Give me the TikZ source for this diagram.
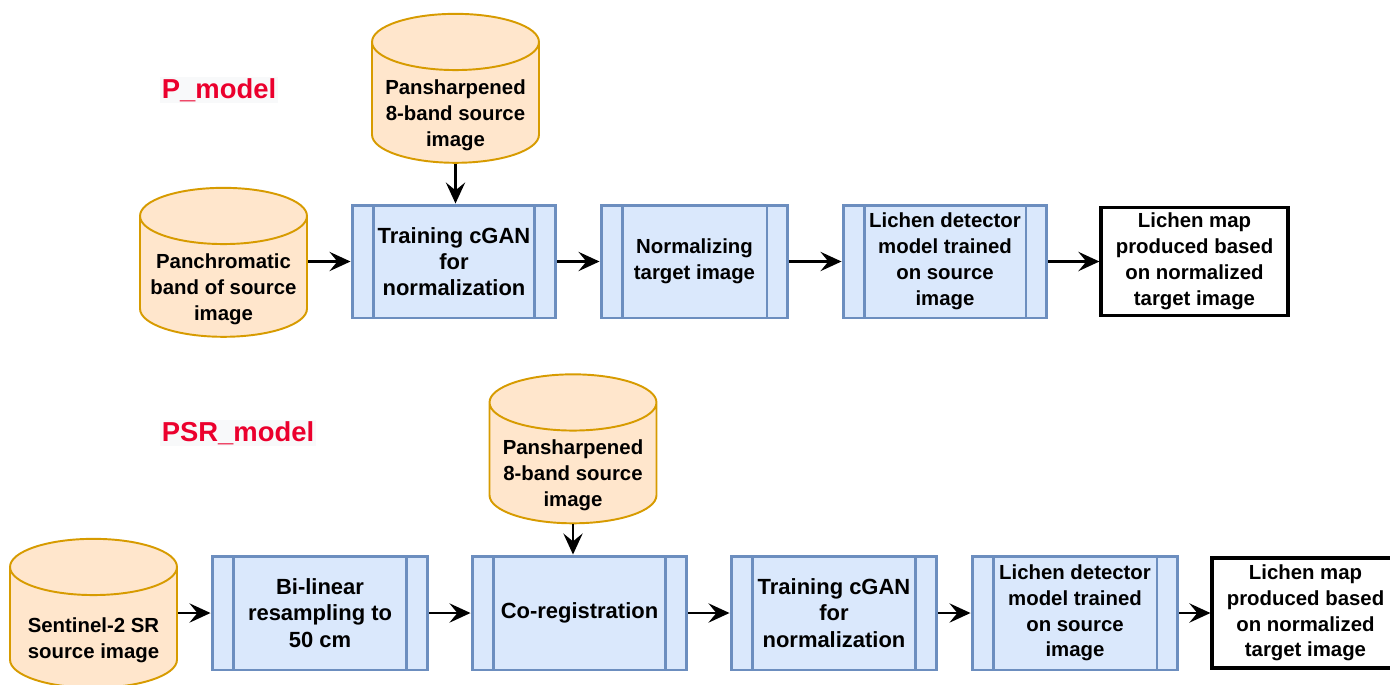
\documentclass[tikz,border=0pt]{standalone}
\usepackage{fontspec}
\setmainfont{Liberation Sans}
\usetikzlibrary{shapes.geometric,arrows.meta}
\definecolor{storefill}{HTML}{FFE6CC}
\definecolor{storeline}{HTML}{D79B00}
\definecolor{procfill}{HTML}{DAE8FC}
\definecolor{procline}{HTML}{6C8EBF}
\definecolor{titlered}{RGB}{235,0,45}
\definecolor{titlebg}{HTML}{F8F9FA}

\begin{document}
\begin{tikzpicture}[x=0.02cm, y=-0.02cm,
    every node/.style={font=\fontsize{11.6}{14.7}\selectfont\bfseries, align=center},
    bigtext/.style={font=\fontsize{12.5}{14.9}\selectfont\bfseries},
    title/.style={text=titlered, fill=titlebg, inner sep=1pt, font=\fontsize{15.6}{18}\selectfont\bfseries},
    store/.style={cylinder, shape border rotate=90, aspect=4, inner sep=4pt, draw=storeline, fill=storefill,
                  line width=1.1pt, minimum width=3.34cm, minimum height=2.98cm},
    storetext/.style={align=center, yshift=-0.13cm},
    process/.style={rectangle, draw=procline, fill=procfill, line width=1.7pt,
                    minimum height=2.26cm,
                    path picture={
                      \draw[procline, line width=1.7pt]
                        ([xshift=0.42cm]path picture bounding box.north west) -- ([xshift=0.42cm]path picture bounding box.south west)
                        ([xshift=-0.42cm]path picture bounding box.north east) -- ([xshift=-0.42cm]path picture bounding box.south east);}},
    result/.style={rectangle, draw=black, fill=white, line width=1.8pt, minimum width=3.74cm},
    flow/.style={line width=1.2pt, -{Stealth[length=12pt, width=11pt, inset=4.5pt]}}]
   \useasboundingbox (0,0) rectangle (1390,684);

   % P_model
   \node[title] (pm) at (219,90) {P\_model};
   \node[store, label={[storetext]center:Pansharpened\\8-band source\\image}] (panA) at (455.5,108.5) {};
   \node[store, label={[storetext]center:Panchromatic\\band of source\\image}] (chrA) at (223.5,282.5) {};
   \node[process, bigtext, minimum width=4.08cm] (trainA) at (454,261.5) {Training cGAN\\for\\normalization};
   \node[process, minimum width=3.74cm] (normA) at (694.5,261.5) {Normalizing\\target image};
   \node[process, minimum width=4.08cm] (lichA) at (945,261.5) {Lichen detector\\model trained\\on source\\image};
   \node[result, minimum height=2.16cm] (mapA) at (1194.5,261.5) {Lichen map\\produced based\\on normalized\\target image};
   \draw[flow] (panA) -- (panA |- trainA.north);
   \draw[flow] (chrA.east |- trainA) -- (trainA);
   \draw[flow] (trainA) -- (normA);
   \draw[flow] (normA) -- (lichA);
   \draw[flow] (lichA) -- (mapA);

   % PSR_model
   \node[title] (psr) at (238,433) {PSR\_model};
   \node[store, label={[storetext]center:Pansharpened\\8-band source\\image}] (panB) at (573,469) {};
   \node[store, label={[storetext]center:Sentinel-2 SR\\source image}] (senB) at (93.5,633.5) {};
   \node[process, bigtext, minimum width=4.32cm, minimum height=2.28cm] (bilB) at (320,613) {Bi-linear\\resampling to\\50 cm};
   \node[process, bigtext, minimum width=4.30cm, minimum height=2.28cm] (regB) at (579.5,613) {Co-registration};
   \node[process, bigtext, minimum width=4.12cm, minimum height=2.28cm] (trainB) at (834,613) {Training cGAN\\for\\normalization};
   \node[process, minimum width=4.12cm, minimum height=2.28cm] (lichB) at (1075,613) {Lichen detector\\model trained\\on source\\image};
   \node[result, minimum height=2.2cm] (mapB) at (1305.5,613) {Lichen map\\produced based\\on normalized\\target image};
   \draw[flow] (panB) -- (panB |- regB.north);
   \draw[flow] (senB.east |- bilB) -- (bilB);
   \draw[flow] (bilB) -- (regB);
   \draw[flow] (regB) -- (trainB);
   \draw[flow] (trainB) -- (lichB);
   \draw[flow] (lichB) -- (mapB);
 \end{tikzpicture}
\end{document}
